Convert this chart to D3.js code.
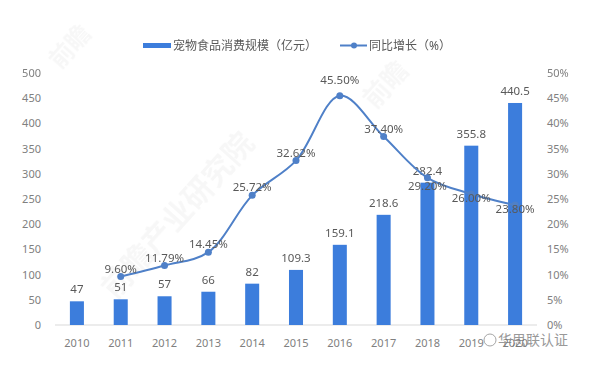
<!DOCTYPE html>
<html lang="zh">
<head>
<meta charset="UTF-8">
<script src="https://d3js.org/d3.v7.min.js"></script>
<style>
  body { margin: 0; background: #fff; }
  text { font-family: "Noto Sans", "Noto Sans CJK SC", sans-serif; }
  .axis text { fill: #808080; font-size: 11px; }
  .axis path, .axis line { stroke: none; }
  .lbl { fill: #595959; font-size: 11.5px; }
</style>
</head>
<body>
<script>
  // data
  const years = ['2010', '2011', '2012', '2013', '2014', '2015', '2016', '2017', '2018', '2019', '2020'];
  const scale = [47, 51, 57, 66, 82, 109.3, 159.1, 218.6, 282.4, 355.8, 440.5];
  const growthYears = ['2011', '2012', '2013', '2014', '2015', '2016', '2017', '2018', '2019', '2020'];
  const growth = [9.60, 11.79, 14.45, 25.72, 32.62, 45.50, 37.40, 29.20, 26.00, 23.80];
  const leftTicks = [0, 50, 100, 150, 200, 250, 300, 350, 400, 450, 500];
  const rightTicks = [0, 5, 10, 15, 20, 25, 30, 35, 40, 45, 50];

  const W = 600, H = 378;
  const margin = { top: 73, bottom: 53, left: 55, right: 63 };

  const svg = d3.select('body').append('svg')
    .attr('width', W).attr('height', H);

  // faint watermarks
  const wm = svg.append('g').attr('fill', '#000').attr('opacity', 0.035)
    .style('font-family', '"Noto Sans CJK SC"').style('font-weight', 'bold');
  wm.append('text').attr('transform', 'translate(115,300) rotate(-48)')
    .attr('font-size', 30).text('前瞻产业研究院');
  wm.append('text').attr('transform', 'translate(375,110) rotate(-48)')
    .attr('font-size', 26).text('前瞻');
  wm.append('text').attr('transform', 'translate(60,70) rotate(-48)')
    .attr('font-size', 24).text('前瞻');

  const x = d3.scaleBand().domain(years)
    .range([margin.left, W - margin.right])
    .paddingInner(0.68).paddingOuter(0.34);
  const y = d3.scaleLinear().domain([0, 500]).range([H - margin.bottom, margin.top]);
  const y2 = d3.scaleLinear().domain([0, 50]).range([H - margin.bottom, margin.top]);

  // baseline
  svg.append('line')
    .attr('x1', margin.left).attr('x2', W - margin.right)
    .attr('y1', y(0)).attr('y2', y(0))
    .attr('stroke', '#d9d9d9').attr('stroke-width', 1);

  // axes
  svg.append('g').attr('class', 'axis')
    .attr('transform', `translate(${margin.left - 14},0)`)
    .call(d3.axisLeft(y).tickValues(leftTicks).tickSize(0).tickPadding(0));
  svg.append('g').attr('class', 'axis')
    .attr('transform', `translate(${W - margin.right + 10},0)`)
    .call(d3.axisRight(y2).tickValues(rightTicks).tickSize(0).tickPadding(0)
      .tickFormat(d => d + '%'));
  svg.append('g').attr('class', 'axis')
    .attr('transform', `translate(0,${y(0) + 8})`)
    .call(d3.axisBottom(x).tickSize(0).tickPadding(6));

  // bars
  svg.selectAll('rect.bar').data(years).join('rect')
    .attr('class', 'bar')
    .attr('x', d => x(d))
    .attr('width', x.bandwidth())
    .attr('y', (d, i) => y(scale[i]))
    .attr('height', (d, i) => y(0) - y(scale[i]))
    .attr('fill', '#3c7ddc');

  svg.selectAll('text.bl').data(years).join('text')
    .attr('class', 'lbl bl')
    .attr('x', d => x(d) + x.bandwidth() / 2)
    .attr('y', (d, i) => y(scale[i]) - 8)
    .attr('text-anchor', 'middle')
    .text((d, i) => scale[i]);

  // growth line
  const cx = d => x(d) + x.bandwidth() / 2;
  const line = d3.line()
    .x(d => cx(d[0])).y(d => y2(d[1]))
    .curve(d3.curveCatmullRom.alpha(0.5));
  const pts = growthYears.map((d, i) => [d, growth[i]]);
  svg.append('path').datum(pts)
    .attr('d', line)
    .attr('fill', 'none').attr('stroke', '#4f80c8').attr('stroke-width', 2);
  svg.selectAll('circle.pt').data(pts).join('circle')
    .attr('class', 'pt')
    .attr('cx', d => cx(d[0])).attr('cy', d => y2(d[1]))
    .attr('r', 3.5).attr('fill', '#4f80c8');
  // labels above the points, the last three sit on / below the line
  svg.selectAll('text.gl').data(pts).join('text')
    .attr('class', 'lbl gl')
    .attr('x', d => cx(d[0]))
    .attr('y', d => {
      if (+d[0] >= 2018) return y2(d[1]) + (d[0] === '2018' ? 12 : 8);
      if (d[0] === '2016') return y2(d[1]) - 12;
      return y2(d[1]) - 4;
    })
    .attr('text-anchor', 'middle')
    .text(d => d[1].toFixed(2) + '%');

  // legend
  const lg = svg.append('g');
  lg.append('rect').attr('x', 143).attr('y', 43).attr('width', 28).attr('height', 5)
    .attr('fill', '#3c7ddc');
  lg.append('text').attr('class', 'lbl').attr('x', 173).attr('y', 50)
    .style('font-size', '12px').text('宠物食品消费规模（亿元）');
  lg.append('line').attr('x1', 340).attr('x2', 367).attr('y1', 45.5).attr('y2', 45.5)
    .attr('stroke', '#4f80c8').attr('stroke-width', 2);
  lg.append('circle').attr('cx', 354).attr('cy', 45.5).attr('r', 3).attr('fill', '#4f80c8');
  lg.append('text').attr('class', 'lbl').attr('x', 369).attr('y', 50)
    .style('font-size', '12px').text('同比增长（%）');

  // wechat watermark
  const wx = svg.append('g').attr('opacity', 0.75);
  wx.append('circle').attr('cx', 490).attr('cy', 340).attr('r', 6)
    .attr('fill', 'none').attr('stroke', '#888').attr('stroke-width', 1);
  wx.append('text').attr('x', 498).attr('y', 345)
    .style('font-size', '14px').style('font-family', '"Noto Sans CJK SC"')
    .attr('fill', '#777').text('华思联认证');
</script>
</body>
</html>
